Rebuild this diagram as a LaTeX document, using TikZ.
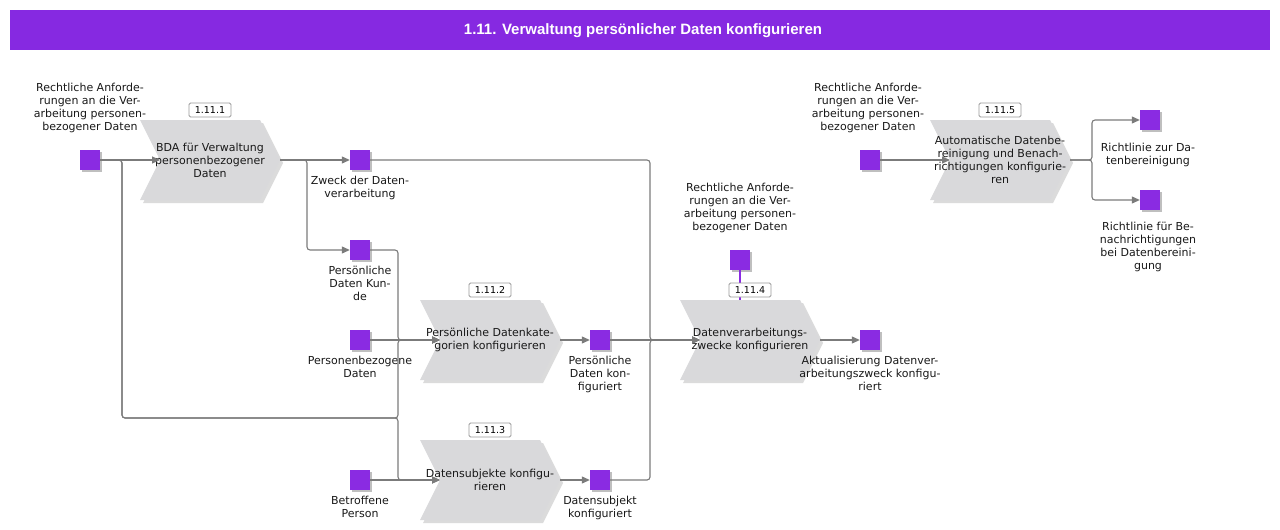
\documentclass[tikz,border=0pt]{standalone}
\usepackage{fontspec}
\setmainfont{DejaVu Sans}
\newfontfamily\titlefont{Liberation Sans}
\usetikzlibrary{arrows.meta,shadows}
\definecolor{sqc}{HTML}{8A2BE2}
\definecolor{titlec}{HTML}{8629E1}
\definecolor{chevc}{HTML}{D9D9DB}
\definecolor{linec}{HTML}{7B7B7B}
\definecolor{idline}{HTML}{9A9A9A}
\tikzset{
  lbl/.style={font=\fontsize{11pt}{13pt}\selectfont, align=center, inner sep=0pt, text=black!90},
  lblb/.style={lbl, anchor=north},
  lbla/.style={lbl, anchor=south},
  sq/.style={fill=sqc, minimum size=20pt, inner sep=0pt, drop shadow={shadow xshift=2pt, shadow yshift=-2pt, fill=black, opacity=0.25}},
  chevfill/.style={fill=chevc, drop shadow={shadow xshift=3pt, shadow yshift=-3pt, fill=black, opacity=0.14}},
  chevtext/.style={lbl, minimum width=140pt, minimum height=80pt},
  idbox/.style={draw=idline, fill=white, rounded corners=1.5pt, font=\fontsize{9.5pt}{10pt}\selectfont, minimum width=42pt, minimum height=14pt, inner sep=0pt, line width=0.8pt},
  conn/.style={draw=linec, line width=1.1pt, rounded corners=3pt},
  arr/.style={conn, -{Triangle[length=8pt,width=7pt]}},
  assoc/.style={draw=sqc, line width=1.1pt},
  titlebar/.style={fill=titlec, minimum width=1260pt, minimum height=40pt, inner sep=0pt},
  titletext/.style={text=white, font=\titlefont\bfseries\fontsize{15pt}{17pt}\selectfont, inner sep=0pt}
}
\newcommand{\chevproc}[5]{%
  \path[chevfill] (#2-70,#3-40) -- (#2+50,#3-40) -- (#2+70,#3) -- (#2+50,#3+40) -- (#2-70,#3+40) -- (#2-50,#3) -- cycle;
  \node[chevtext] (#1) at (#2,#3) {#4};
  \coordinate (#1in) at (#2-50,#3);
  \coordinate (#1out) at (#2+70,#3);
  \node[idbox] (#1id) at (#2,#3-50) {#5};
}
\begin{document}
\begin{tikzpicture}[x=1pt,y=-1pt]
\useasboundingbox[fill=white] (0,0) rectangle (1280,530);
\node[titlebar] (titlebg) at (640,30) {};
\node[titletext] (title) at (643,31) {1.11. Verwaltung persönlicher Daten konfigurieren};

% squares
\node[sq] (s1) at (90,160) {};
\node[sq] (s2) at (360,160) {};
\node[sq] (s3) at (360,250) {};
\node[sq] (s4) at (360,340) {};
\node[sq] (s5) at (600,340) {};
\node[sq] (s6) at (360,480) {};
\node[sq] (s7) at (600,480) {};
\node[sq] (s8) at (740,260) {};
\node[sq] (s9) at (870,340) {};
\node[sq] (s10) at (870,160) {};
\node[sq] (s11) at (1150,120) {};
\node[sq] (s12) at (1150,200) {};

% association line
\path[assoc] (s8.south) -- (740,300);

% processes
\chevproc{c1}{210}{160}{BDA für Verwaltung\\personenbezogener\\Daten}{1.11.1}
\chevproc{c2}{490}{340}{Persönliche Datenkate-\\gorien konfigurieren}{1.11.2}
\chevproc{c3}{490}{480}{Datensubjekte konfigu-\\rieren}{1.11.3}
\chevproc{c4}{750}{340}{Datenverarbeitungs-\\zwecke konfigurieren}{1.11.4}
\chevproc{c5}{1000}{160}{Automatische Datenbe-\\reinigung und Benach-\\richtigungen konfigurie-\\ren}{1.11.5}

% labels
\node[lbla] (l1) at ([yshift=17pt]s1.north) {Rechtliche Anforde-\\rungen an die Ver-\\arbeitung personen-\\bezogener Daten};
\node[lblb] (l2) at ([yshift=-6pt]s2.south) {Zweck der Daten-\\verarbeitung};
\node[lblb] (l3) at ([yshift=-6pt]s3.south) {Persönliche\\Daten Kun-\\de};
\node[lblb] (l4) at ([yshift=-6pt]s4.south) {Personenbezogene\\Daten};
\node[lblb] (l5) at ([yshift=-6pt]s5.south) {Persönliche\\Daten kon-\\figuriert};
\node[lblb] (l6) at ([yshift=-6pt]s6.south) {Betroffene\\Person};
\node[lblb] (l7) at ([yshift=-6pt]s7.south) {Datensubjekt\\konfiguriert};
\node[lbla] (l8) at ([yshift=17pt]s8.north) {Rechtliche Anforde-\\rungen an die Ver-\\arbeitung personen-\\bezogener Daten};
\node[lblb] (l9) at ([yshift=-6pt]s9.south) {Aktualisierung Datenver-\\arbeitungszweck konfigu-\\riert};
\node[lbla] (l10) at ([yshift=17pt,xshift=-2pt]s10.north) {Rechtliche Anforde-\\rungen an die Ver-\\arbeitung personen-\\bezogener Daten};
\node[lblb] (l11) at ([yshift=-13pt,xshift=-2pt]s11.south) {Richtlinie zur Da-\\tenbereinigung};
\node[lblb] (l12) at ([yshift=-12pt,xshift=-2pt]s12.south) {Richtlinie für Be-\\nachrichtigungen\\bei Datenbereini-\\gung};

% junction coordinates
\coordinate (j1) at (122,418);
\coordinate (j2) at (398,418);
\coordinate (xa) at (398,0);
\coordinate (xb) at (307,0);
\coordinate (xc) at (650,0);
\coordinate (xd) at (1092,0);

% connectors
\draw[arr] (s1.east) -- (c1in);
\draw[arr] (s1.east) -| (j1) -- (j2) |- (c2in);
\draw[arr] (s1.east) -| (j1) -- (j2) |- (c3in);
\draw[arr] (s3.east) -| (xa |- c2in) -- (c2in);
\draw[arr] (s4.east) -- (c2in);
\draw[arr] (s6.east) -- (c3in);
\draw[arr] (c1out) -- (s2.west);
\draw[arr] (c1out) -| (xb |- s3.west) -- (s3.west);
\draw[arr] (c2out) -- (s5.west);
\draw[arr] (c3out) -- (s7.west);
\draw[arr] (s2.east) -| (xc |- c4in) -- (c4in);
\draw[arr] (s5.east) -- (c4in);
\draw[arr] (s7.east) -| (xc |- c4in) -- (c4in);
\draw[arr] (c4out) -- (s9.west);
\draw[arr] (s10.east) -- (c5in);
\draw[arr] (c5out) -| (xd |- s11.west) -- (s11.west);
\draw[arr] (c5out) -| (xd |- s12.west) -- (s12.west);
\end{tikzpicture}
\end{document}
